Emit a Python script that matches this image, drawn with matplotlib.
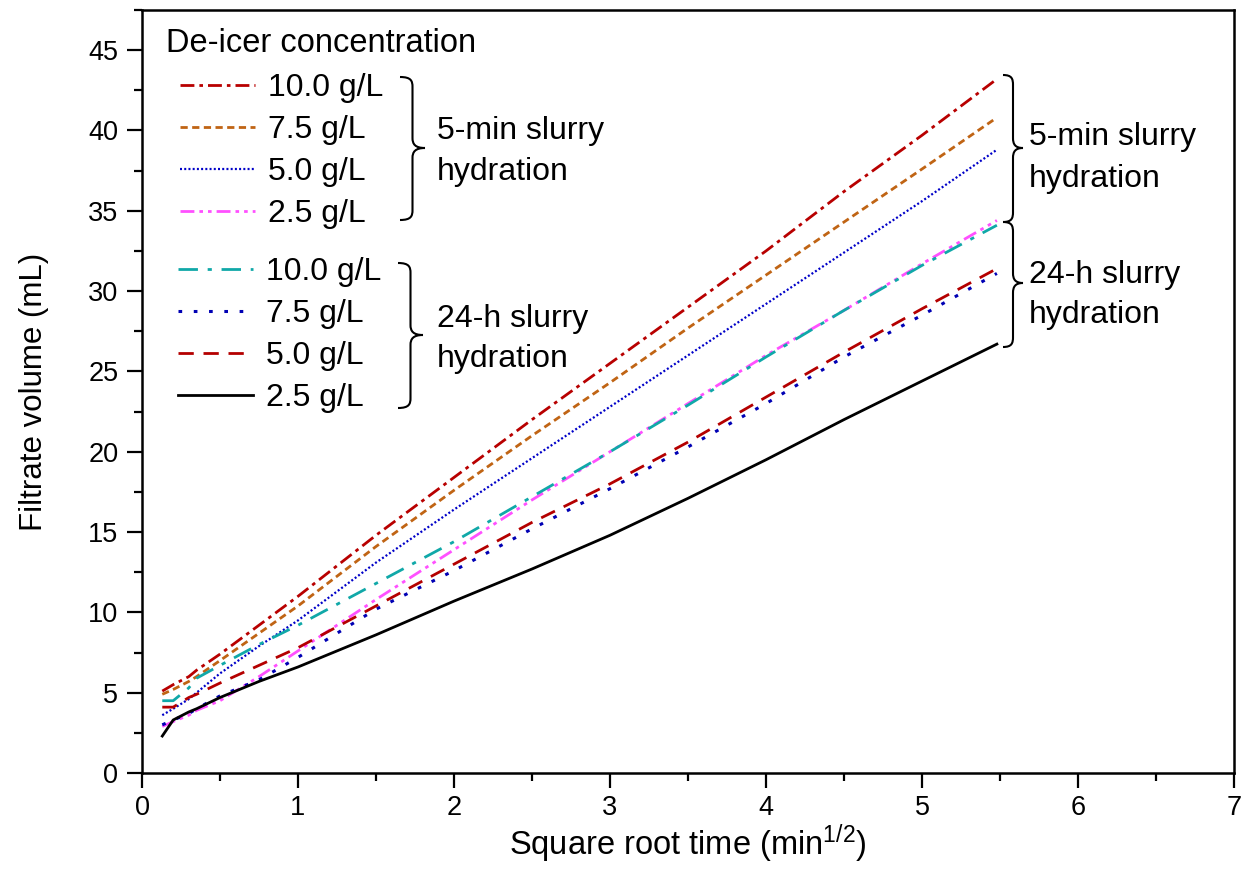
import matplotlib
matplotlib.use("Agg")
import matplotlib.pyplot as plt
from matplotlib.path import Path
from matplotlib.patches import PathPatch
from matplotlib.ticker import MultipleLocator

plt.rcParams['font.family'] = ['Liberation Sans', 'DejaVu Sans']
plt.rcParams['mathtext.fontset'] = 'custom'
plt.rcParams['mathtext.rm'] = 'Liberation Sans'
plt.rcParams['mathtext.it'] = 'Liberation Sans:italic'

# ---------------- data ----------------
sqrt_time = [0.13, 0.2, 0.3, 0.35, 0.5, 0.75, 1.0, 1.5, 2.0, 2.5, 3.0, 3.5, 4.0, 4.5, 5.0, 5.48]

min5_10_0 = [5.1, 5.5, 6.0, 6.4, 7.4, 9.2, 11.0, 14.8, 18.4, 22.0, 25.5, 29.0, 32.5, 36.2, 39.7, 43.2]
min5_7_5  = [4.9, 5.2, 5.7, 6.0, 7.0, 8.7, 10.4, 14.1, 17.6, 21.0, 24.3, 27.7, 31.0, 34.3, 37.6, 40.8]
min5_5_0  = [3.6, 4.0, 4.6, 5.0, 6.2, 7.9, 9.5, 13.1, 16.4, 19.6, 22.8, 26.0, 29.2, 32.4, 35.6, 38.8]
min5_2_5  = [2.9, 3.2, 3.6, 3.9, 4.5, 6.0, 7.6, 10.8, 13.9, 17.0, 20.0, 23.0, 26.0, 28.8, 31.7, 34.4]
h24_10_0  = [4.5, 4.5, 5.3, 5.9, 6.7, 8.0, 9.2, 11.8, 14.4, 17.2, 20.0, 22.9, 25.9, 28.8, 31.6, 34.1]
h24_7_5   = [3.0, 3.3, 3.7, 4.0, 4.8, 5.8, 7.2, 10.2, 12.6, 15.2, 17.7, 20.3, 23.0, 25.9, 28.5, 31.1]
h24_5_0   = [4.1, 4.1, 4.7, 4.9, 5.6, 6.7, 7.8, 10.4, 13.0, 15.6, 18.0, 20.6, 23.4, 26.2, 28.9, 31.4]
h24_2_5   = [2.3, 3.3, 3.8, 4.0, 4.7, 5.7, 6.6, 8.6, 10.7, 12.7, 14.8, 17.1, 19.5, 22.0, 24.4, 26.7]

labels = ['10.0 g/L', '7.5 g/L', '5.0 g/L', '2.5 g/L']
x_ticks = [0, 1, 2, 3, 4, 5, 6, 7]
y_ticks = [0, 5, 10, 15, 20, 25, 30, 35, 40, 45]

W, H = 1248, 886
fig = plt.figure(figsize=(W / 100, H / 100), dpi=100)
ax = fig.add_axes([142 / W, 1 - 773 / H, (1234 - 142) / W, (773 - 10) / H])

styles_5 = [
    dict(color='#B80000', ls=(0, (5, 1.8, 1.3, 1.8)), lw=2.0),
    dict(color='#C06414', ls=(0, (2.6, 1.6)), lw=2.0),
    dict(color='#0000C8', ls=(0, (0.9, 1.0)), lw=1.6),
    dict(color='#FF50FF', ls=(0, (5, 1.8, 1.3, 1.8, 1.3, 1.8)), lw=2.0),
]
styles_24 = [
    dict(color='#10A8A8', ls=(0, (7, 3.5, 1.5, 3.5)), lw=2.0),
    dict(color='#0000B4', ls=(0, (1.2, 3.8)), lw=2.2),
    dict(color='#B40000', ls=(0, (5.5, 3.5)), lw=2.0),
    dict(color='black', ls='-', lw=2.0),
]

h5 = []
for ys, st, lab in zip([min5_10_0, min5_7_5, min5_5_0, min5_2_5], styles_5, labels):
    ln, = ax.plot(sqrt_time, ys, label=lab, **st)
    h5.append(ln)
h24 = []
for ys, st, lab in zip([h24_10_0, h24_7_5, h24_5_0, h24_2_5], styles_24, labels):
    ln, = ax.plot(sqrt_time, ys, label=lab, **st)
    h24.append(ln)

ax.set_xlim(0, 7)
ax.set_ylim(0, 47.5)
ax.set_xticks(x_ticks)
ax.set_yticks(y_ticks)
ax.xaxis.set_minor_locator(MultipleLocator(0.5))
ax.yaxis.set_minor_locator(MultipleLocator(2.5))
ax.tick_params(which='major', direction='out', length=11, width=1.6, labelsize=19.5)
ax.tick_params(which='minor', direction='out', length=6, width=1.6)
ax.tick_params(axis='x', pad=5)
ax.tick_params(axis='y', pad=6)
for sp in ax.spines.values():
    sp.set_linewidth(1.8)

ax.set_xlabel(r'Square root time (min$^{\mathrm{1/2}}$)', fontsize=23.5, labelpad=1)
ax.set_ylabel('Filtrate volume (mL)', fontsize=22.5, labelpad=28)


def fx(px):
    return px / W


def fy(py):
    return 1 - py / H


fs = 23
leg_kw = dict(loc='upper left', frameon=False, fontsize=fs, handlelength=2.35,
              handletextpad=0.4, labelspacing=0.38, borderpad=0, borderaxespad=0,
              bbox_transform=fig.transFigure)
leg1 = ax.legend(handles=h5, bbox_to_anchor=(fx(180), fy(73)), **leg_kw)
ax.add_artist(leg1)
leg2 = ax.legend(handles=h24, bbox_to_anchor=(fx(178), fy(257)), **leg_kw)

fig.text(fx(166), fy(52), 'De-icer concentration', fontsize=fs + 0.5, va='baseline', ha='left')


def brace(x0, ytop, ybot, ymid, w):
    r = w / 2.0
    k = 10.0
    pts = [
        (x0, ytop),
        (x0 + r * 0.9, ytop), (x0 + r, ytop + k * 0.4), (x0 + r, ytop + k),
        (x0 + r, ymid - k),
        (x0 + r, ymid - k * 0.4), (x0 + r * 1.2, ymid), (x0 + w, ymid),
        (x0 + r * 1.2, ymid), (x0 + r, ymid + k * 0.4), (x0 + r, ymid + k),
        (x0 + r, ybot - k),
        (x0 + r, ybot - k * 0.4), (x0 + r * 0.9, ybot), (x0, ybot),
    ]
    codes = [Path.MOVETO, Path.CURVE4, Path.CURVE4, Path.CURVE4, Path.LINETO,
             Path.CURVE4, Path.CURVE4, Path.CURVE4, Path.CURVE4, Path.CURVE4, Path.CURVE4,
             Path.LINETO, Path.CURVE4, Path.CURVE4, Path.CURVE4]
    verts = [(fx(a), fy(b)) for a, b in pts]
    patch = PathPatch(Path(verts, codes), fill=False, lw=1.5, edgecolor='black',
                      transform=fig.transFigure)
    fig.add_artist(patch)


brace(400, 77, 220, 148, 25)
brace(398, 263, 408, 335, 25)
brace(1003, 75, 222, 148, 20)
brace(1003, 222, 347, 283, 20)

fig.text(fx(437), fy(139), '5-min slurry', fontsize=fs, va='baseline')
fig.text(fx(437), fy(180), 'hydration', fontsize=fs, va='baseline')
fig.text(fx(437), fy(327), '24-h slurry', fontsize=fs, va='baseline')
fig.text(fx(437), fy(367), 'hydration', fontsize=fs, va='baseline')
fig.text(fx(1029), fy(145), '5-min slurry', fontsize=fs, va='baseline')
fig.text(fx(1029), fy(187), 'hydration', fontsize=fs, va='baseline')
fig.text(fx(1029), fy(283), '24-h slurry', fontsize=fs, va='baseline')
fig.text(fx(1029), fy(323), 'hydration', fontsize=fs, va='baseline')

fig.savefig('out.png', dpi=100)
